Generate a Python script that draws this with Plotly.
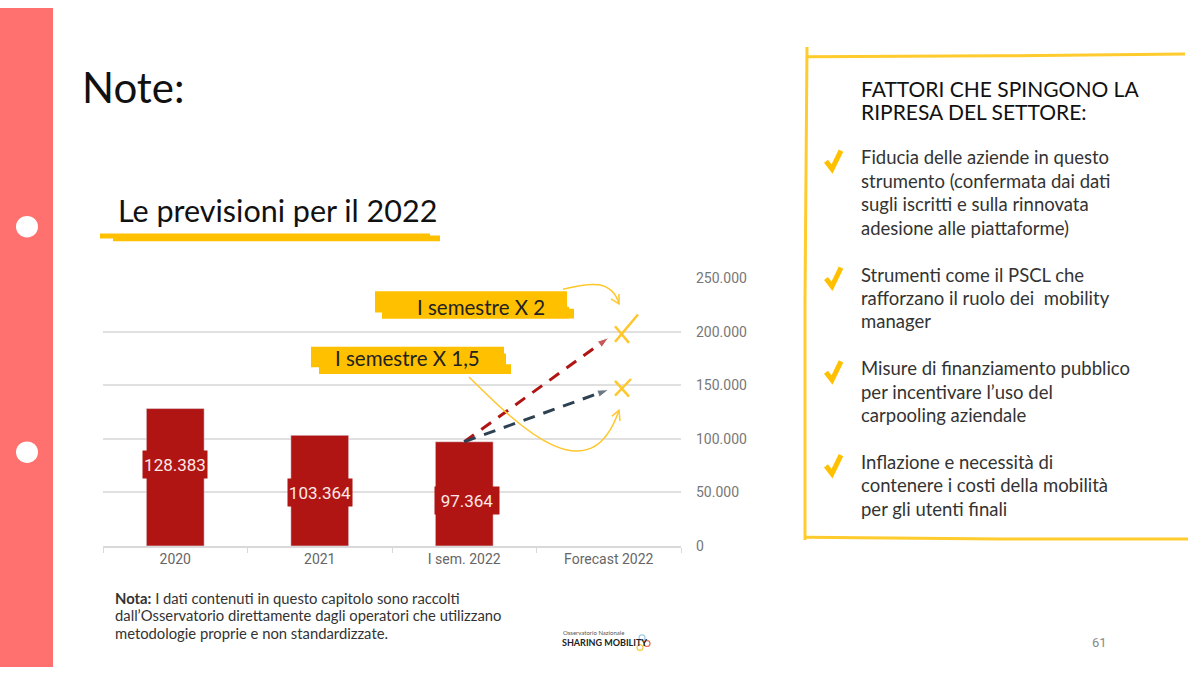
import plotly.graph_objects as go

categorie = ["2020", "2021", "I sem. 2022", "Forecast 2022"]
valori = [128383, 103364, 97364, None]
etichette = ["128.383", "103.364", "97.364"]
scenario_x2 = [97364, 194728]
scenario_x15 = [97364, 146046]
tick_y = [0, 50000, 100000, 150000, 200000, 250000]

righe_titolo = ["FATTORI CHE SPINGONO LA", "RIPRESA DEL SETTORE:"]
righe_punti = [
    ["Fiducia delle aziende in questo", "strumento (confermata dai dati",
     "sugli iscritti e sulla rinnovata", "adesione alle piattaforme)"],
    ["Strumenti come il PSCL che", "rafforzano il ruolo dei  mobility", "manager"],
    ["Misure di finanziamento pubblico", "per incentivare l’uso del", "carpooling aziendale"],
    ["Inflazione e necessità di", "contenere i costi della mobilità", "per gli utenti finali"],
]
righe_nota = [
    "<b>Nota:</b> I dati contenuti in questo capitolo sono raccolti",
    "dall’Osservatorio direttamente dagli operatori che utilizzano",
    "metodologie proprie e non standardizzate.",
]

ROSSO = "#B01513"
SCURO = "#2D4152"
GIALLO = "#FFC000"
GIALLO_LINEA = "#FFCB2D"
CORALLO = "#FF716E"
MANO = "Lato"
NUMERI = "Roboto"


# pixel -> paper
def px(x):
    return x / 1200


def py(y):
    return 1 - y / 675


def tracciato(punti, chiuso=False):
    s = "M " + " L ".join(f"{px(x)} {py(y)}" for x, y in punti)
    return s + " Z" if chiuso else s


def curva(p0, c1, c2, p1):
    return (f"M {px(p0[0])} {py(p0[1])} C {px(c1[0])} {py(c1[1])} "
            f"{px(c2[0])} {py(c2[1])} {px(p1[0])} {py(p1[1])}")


def rett(x0, y0, x1, y1, colore):
    return dict(type="rect", xref="paper", yref="paper", x0=px(x0), x1=px(x1),
                y0=py(y0), y1=py(y1), fillcolor=colore, line_width=0)


def linea(punti, colore, w):
    return dict(type="path", xref="paper", yref="paper", path=tracciato(punti),
                line=dict(color=colore, width=w))


def testo(x, y, t, size, colore="#222222", font=MANO, anchor="left"):
    return dict(xref="paper", yref="paper", x=px(x), y=py(y), text=t, showarrow=False,
                xanchor=anchor, yanchor="middle",
                font=dict(family=font, size=size, color=colore))


fig = go.Figure()

fig.add_trace(go.Bar(x=categorie, y=valori, marker_color=ROSSO, width=0.4, hoverinfo="skip"))

fig.add_trace(go.Scatter(
    x=categorie[2:], y=scenario_x2, mode="lines+markers",
    line=dict(color=ROSSO, width=3, dash="12px,9px"),
    marker=dict(symbol="arrow", angleref="previous", size=[0, 12], color=ROSSO),
))
fig.add_trace(go.Scatter(
    x=categorie[2:], y=scenario_x15, mode="lines+markers",
    line=dict(color=SCURO, width=3, dash="12px,9px"),
    marker=dict(symbol="arrow", angleref="previous", size=[0, 12], color=SCURO),
))

forme = [
    # banda laterale
    rett(0, 0, 53, 675, CORALLO),
    dict(type="circle", xref="paper", yref="paper", x0=px(16), x1=px(38), y0=py(213), y1=py(235),
         fillcolor="white", line_width=0),
    dict(type="circle", xref="paper", yref="paper", x0=px(16), x1=px(38), y0=py(444), y1=py(466),
         fillcolor="white", line_width=0),
    # sottolineatura titolo
    rett(100, 231, 430, 236, GIALLO),
    rett(113, 233, 440, 239, GIALLO),
    # evidenziatori
    rett(375, 290, 567, 312, GIALLO),
    rett(382, 306, 569, 318, GIALLO),
    rett(382, 308, 574, 318, GIALLO),
    rett(311, 347, 504, 368, GIALLO),
    rett(319, 354, 506, 375, GIALLO),
    rett(319, 365, 511, 375, GIALLO),
    # riquadro destra
    linea([(807, 50), (1000, 49), (1185, 47)], GIALLO_LINEA, 3),
    linea([(807, 40), (805, 300), (805, 545)], GIALLO_LINEA, 3),
    linea([(806, 542), (1000, 544), (1188, 544)], GIALLO_LINEA, 3),
    # crocette
    linea([(615, 326), (629, 343)], "#FFC72C", 2.5),
    linea([(638, 314), (615, 342)], "#FFC72C", 2.5),
    linea([(615, 382), (629, 398)], "#FFC72C", 2.5),
    linea([(631, 380), (615, 397)], "#FFC72C", 2.5),
    # frecce a mano
    dict(type="path", xref="paper", yref="paper", line=dict(color="#FFC72C", width=1.5),
         path=curva((563, 288), (590, 281), (612, 278), (619, 303))),
    linea([(611, 298), (619, 303), (619, 293)], "#FFC72C", 1.5),
    dict(type="path", xref="paper", yref="paper", line=dict(color="#FFC72C", width=1.5),
         path=curva((469, 378), (520, 430), (590, 500), (619, 412))),
    linea([(612, 418), (619, 412), (620, 423)], "#FFC72C", 1.5),
]

# spunte
for yc in [155, 275, 371, 467]:
    forme.append(linea([(826, yc + 2), (832, yc + 10), (841, yc - 9)], GIALLO, 5))

note = [
    testo(80, 81, "Note:", 42, "#111111"),
    testo(116, 207, "Le previsioni per il 2022", 30.5, "#111111"),
    testo(481, 306, "I semestre X 2", 20.5, anchor="center"),
    testo(407, 359, "I semestre X 1,5", 20.5, anchor="center"),
    testo(1099, 650, "61", 13, "#888888", NUMERI, "center"),
    testo(561, 640, "Osservatorio Nazionale", 6, "#555555"),
    testo(560, 650, "<b>SHARING MOBILITY</b>", 9, "#222222"),
]

# etichette barre, spostate come nell'originale
spost_y = [13, -2, -7]
spost_x = [0, 0, 3]
for i, (val, et, sy, sx) in enumerate(zip(valori, etichette, spost_y, spost_x)):
    note.append(dict(x=i, y=val / 2, text=et, showarrow=False, yshift=sy, xshift=sx,
                     bgcolor=ROSSO, width=62, height=25,
                     font=dict(family=NUMERI, size=17, color="#FBE9E7")))

# testi riquadro
for i, r in enumerate(righe_titolo):
    note.append(testo(859, 82 + i * 24, r, 21, "#111111"))
inizi = [153, 273, 369, 465]
for inizio, gruppo in zip(inizi, righe_punti):
    for i, r in enumerate(gruppo):
        note.append(testo(859, inizio + i * 24, r, 18.5, "#333333"))
for i, r in enumerate(righe_nota):
    note.append(testo(113, 604 + i * 18, r, 14.8, "#333333"))

# puntine logo
for cx, cy, col in [(642, 645, "#9CCBE8"), (647, 651, "#E8674F"), (640, 655, "#F6C945")]:
    forme.append(dict(type="circle", xref="paper", yref="paper", x0=px(cx - 3), x1=px(cx + 3),
                      y0=py(cy - 3), y1=py(cy + 3), line=dict(color=col, width=1.2),
                      fillcolor="white"))

fig.update_layout(
    width=1200, height=675,
    margin=dict(l=0, r=0, t=0, b=0),
    paper_bgcolor="white", plot_bgcolor="white",
    showlegend=False, separators=",.",
    shapes=forme, annotations=note,
    xaxis=dict(domain=[px(103), px(681)], type="category", categoryorder="array",
               categoryarray=categorie, range=[-0.5, 3.5], showgrid=False, showline=True,
               linecolor="#D9D9D9", linewidth=1.5, ticks="outside", tickson="boundaries",
               ticklen=5, tickcolor="#D9D9D9", tickangle=0,
               tickfont=dict(family=NUMERI, size=14, color="#666666")),
    yaxis=dict(domain=[py(551), py(277)], range=[0, 250000], side="right", tickvals=tick_y,
               tickformat=",d", showgrid=True, gridcolor="#E0E0E0", gridwidth=1.5,
               zeroline=False, ticklabelstandoff=14,
               tickfont=dict(family=NUMERI, size=14, color="#777777")),
)

fig.write_html("out.html", default_width=1200, default_height=675,
               config={"responsive": False, "displayModeBar": False},
               post_script="document.documentElement.style.margin='0';document.body.style.margin='0';")
